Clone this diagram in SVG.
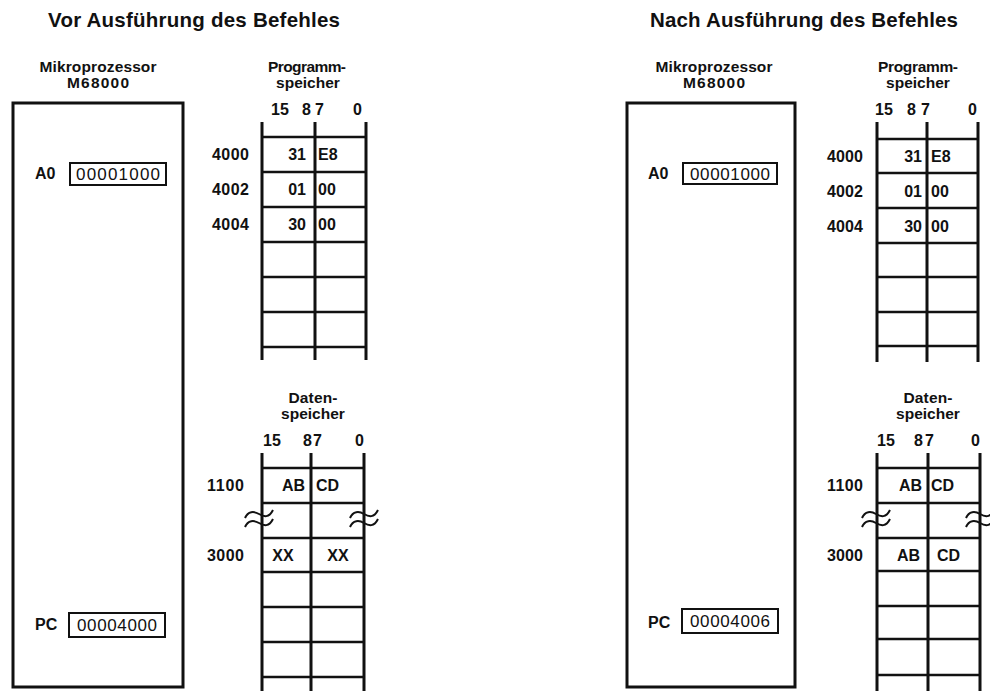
<svg xmlns="http://www.w3.org/2000/svg" width="990" height="691" viewBox="0 0 990 691">
<style>
text{font-family:"Liberation Sans",Arial,Helvetica,sans-serif;fill:#111}
.t{font-size:20.5px;font-weight:bold}
.h{font-size:15.5px;font-weight:bold;text-anchor:middle}
.b{font-size:16px;font-weight:bold}
.r{font-size:17px;text-anchor:middle}
.e{text-anchor:end}
.m{text-anchor:middle}
.box{fill:none;stroke:#111;stroke-width:3}
.reg{fill:none;stroke:#111;stroke-width:2}
.v{stroke:#111;stroke-width:3;fill:none}
.hl{stroke:#111;stroke-width:2.5;fill:none}
.tl{stroke:#111;stroke-width:2;fill:none}
</style>
<defs>
<path id="tilde" d="M0,4 C3,-3 9,-3 14,0 S24,4 28,-4" class="tl"/>
<g id="brk"><use href="#tilde" y="0"/><use href="#tilde" y="9"/></g>
</defs>
<rect width="990" height="691" fill="#fff"/>

<!-- LEFT: before -->
<text class="t" x="48" y="27" textLength="292">Vor Ausführung des Befehles</text>

<g id="cpu-left">
<text class="h" x="98" y="72" textLength="117">Mikroprozessor</text>
<text class="h" x="98" y="88" textLength="62">M68000</text>
<rect class="box" x="13" y="103" width="170" height="584"/>
<text class="b" x="35" y="179" font-size="15">A0</text>
<rect class="reg" x="70" y="163" width="96" height="22"/>
<text class="r" x="118" y="180" textLength="84">00001000</text>
<text class="b" x="35" y="630">PC</text>
<rect class="reg" x="69" y="613" width="96" height="24"/>
<text class="r" x="117" y="631" textLength="80">00004000</text>
</g>

<g id="progmem-left">
<text class="h" x="307" y="72" textLength="78">Programm-</text>
<text class="h" x="308" y="88">speicher</text>
<text class="b" x="271" y="115">15</text>
<text class="b" x="302" y="115">8</text>
<text class="b" x="315" y="115">7</text>
<text class="b" x="353" y="115">0</text>
<path class="v" d="M262,122V360M315,122V360M366,122V360"/>
<path class="hl" d="M262,137H366M262,172H366M262,207H366M262,242H366M262,277H366M262,312H366M262,347H366"/>
<text class="b" x="212" y="160" textLength="37">4000</text>
<text class="b" x="212" y="195" textLength="37">4002</text>
<text class="b" x="212" y="230" textLength="37">4004</text>
<text class="b e" x="306" y="160">31</text><text class="b" x="318" y="160">E8</text>
<text class="b e" x="306" y="195">01</text><text class="b" x="318" y="195">00</text>
<text class="b e" x="306" y="230">30</text><text class="b" x="318" y="230">00</text>
</g>

<g id="datamem-left">
<text class="h" x="313" y="403" textLength="49">Daten-</text>
<text class="h" x="313" y="419">speicher</text>
<text class="b" x="263" y="446">15</text>
<text class="b" x="303" y="446">8</text>
<text class="b" x="313" y="446">7</text>
<text class="b" x="355" y="446">0</text>
<path class="v" d="M262,453V691M311,453V691M364,453V691"/>
<path class="hl" d="M262,468H364M262,503H364M262,538H364M262,572H364M262,607H364M262,642H364M262,677H364"/>
<text class="b" x="207" y="491" textLength="37">1100</text>
<text class="b" x="207" y="561" textLength="37">3000</text>
<text class="b e" x="305" y="491">AB</text><text class="b" x="316" y="491">CD</text>
<text class="b m" x="283" y="561">XX</text><text class="b m" x="338" y="561">XX</text>
<use href="#brk" x="245" y="514"/>
<use href="#brk" x="350" y="514"/>
</g>

<!-- RIGHT: after -->
<text class="t" x="650" y="27" textLength="308">Nach Ausführung des Befehles</text>

<g id="cpu-right">
<text class="h" x="714" y="72" textLength="117">Mikroprozessor</text>
<text class="h" x="714" y="88" textLength="62">M68000</text>
<rect class="box" x="627" y="103" width="168" height="584"/>
<text class="b" x="648" y="179" font-size="15">A0</text>
<rect class="reg" x="683" y="163" width="94" height="21"/>
<text class="r" x="730" y="180" textLength="80">00001000</text>
<text class="b" x="648" y="628">PC</text>
<rect class="reg" x="682" y="609" width="96" height="24"/>
<text class="r" x="730" y="627" textLength="80">00004006</text>
</g>

<g id="progmem-right">
<text class="h" x="918" y="72" textLength="80">Programm-</text>
<text class="h" x="918" y="88">speicher</text>
<text class="b" x="875" y="115">15</text>
<text class="b" x="907" y="115">8</text>
<text class="b" x="921" y="115">7</text>
<text class="b" x="968" y="115">0</text>
<path class="v" d="M877,122V362M927,122V362M978,122V362"/>
<path class="hl" d="M877,139H978M877,173H978M877,208H978M877,243H978M877,277H978M877,312H978M877,346H978"/>
<text class="b" x="827" y="162" textLength="36">4000</text>
<text class="b" x="827" y="197" textLength="36">4002</text>
<text class="b" x="827" y="232" textLength="36">4004</text>
<text class="b e" x="922" y="162">31</text><text class="b" x="931" y="162">E8</text>
<text class="b e" x="922" y="197">01</text><text class="b" x="931" y="197">00</text>
<text class="b e" x="922" y="232">30</text><text class="b" x="931" y="232">00</text>
</g>

<g id="datamem-right">
<text class="h" x="928" y="403" textLength="49">Daten-</text>
<text class="h" x="928" y="419">speicher</text>
<text class="b" x="877" y="446">15</text>
<text class="b" x="914" y="446">8</text>
<text class="b" x="925" y="446">7</text>
<text class="b" x="971" y="446">0</text>
<path class="v" d="M877,453V691M928,453V691M980,453V691"/>
<path class="hl" d="M877,468H980M877,503H980M877,538H980M877,571H980M877,606H980M877,639H980M877,675H980"/>
<text class="b" x="827" y="491" textLength="36">1100</text>
<text class="b" x="827" y="561" textLength="36">3000</text>
<text class="b e" x="922" y="491">AB</text><text class="b" x="931" y="491">CD</text>
<text class="b e" x="920" y="561">AB</text><text class="b" x="937" y="561">CD</text>
<use href="#brk" x="862" y="514"/>
<use href="#brk" x="966" y="514"/>
</g>
</svg>
